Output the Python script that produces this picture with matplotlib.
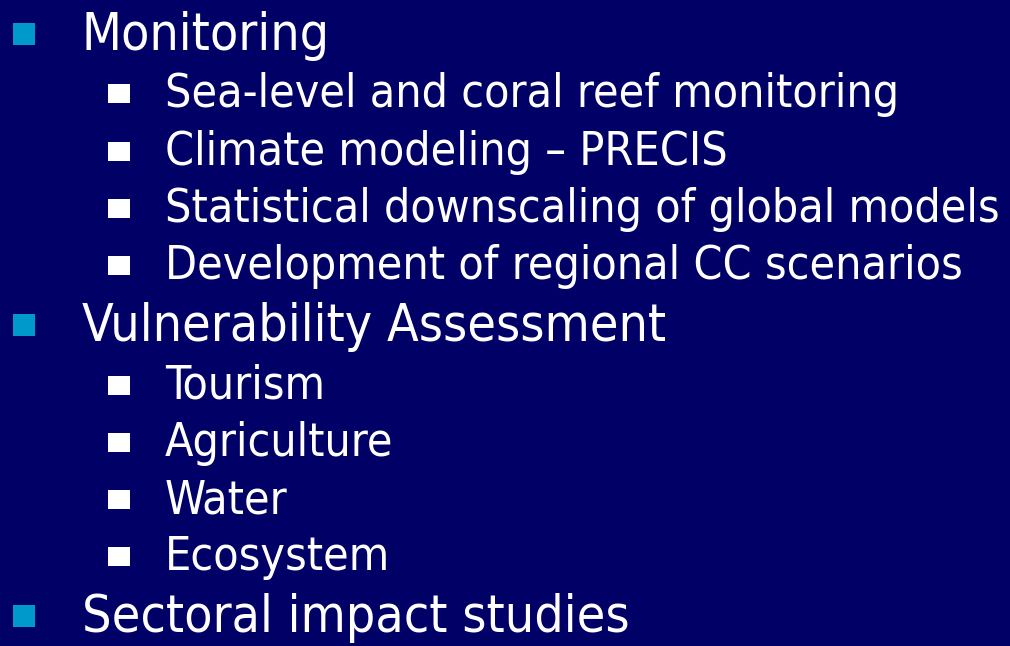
import matplotlib
matplotlib.use('Agg')
import matplotlib.pyplot as plt
from matplotlib.patches import Rectangle

# slide content
items = ['Monitoring',
         'Sea-level and coral reef monitoring',
         'Climate modeling \u2013 PRECIS',
         'Statistical downscaling of global models',
         'Development of regional CC scenarios',
         'Vulnerability Assessment',
         'Tourism',
         'Agriculture',
         'Water',
         'Ecosystem',
         'Sectoral impact studies']
levels = [0, 1, 1, 1, 1, 0, 1, 1, 1, 1, 0]

bg = '#000066'
bullet0 = '#0099cc'

W, H = 1010, 646
fig = plt.figure(figsize=(W / 100, H / 100), dpi=100)
fig.patch.set_facecolor(bg)
ax = fig.add_axes([0, 0, 1, 1])
ax.set_xlim(0, W)
ax.set_ylim(H, 0)
ax.axis('off')

y = 50
for i, (txt, lv) in enumerate(zip(items, levels)):
    if i > 0:
        y += 62 if lv == 0 else 57.3
    if lv == 0:
        ax.add_patch(Rectangle((13, y - 27), 22, 22, color=bullet0, lw=0))
        ax.text(82, y, txt, fontsize=37.2, color='white', family='DejaVu Sans',
                fontstretch='condensed', va='baseline', ha='left')
    else:
        ax.add_patch(Rectangle((108, y - 23), 22, 19, color='white', lw=0))
        ax.text(165, y, txt, fontsize=33.3, color='white', family='DejaVu Sans',
                fontstretch='condensed', va='baseline', ha='left')

fig.savefig('out.png', dpi=100, facecolor=bg)
